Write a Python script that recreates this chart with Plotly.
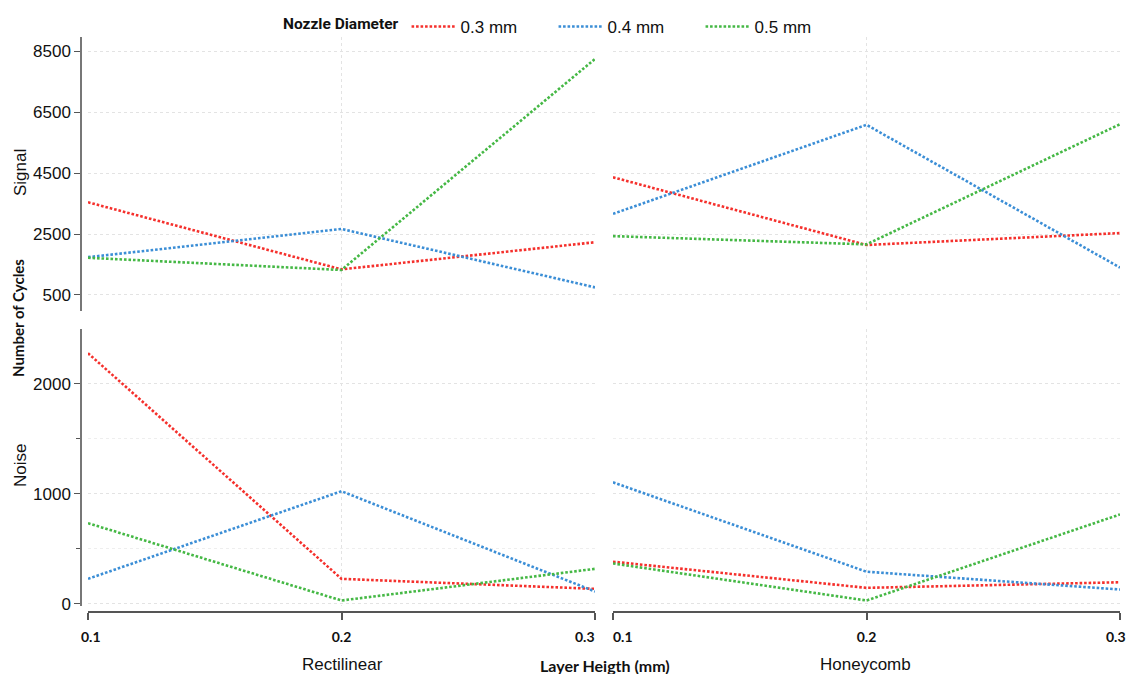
import plotly.graph_objects as go

W, H = 1130, 674

layer_heights = [0.1, 0.2, 0.3]
nozzles = ["0.3 mm", "0.4 mm", "0.5 mm"]
colors = ["#f5302c", "#3b8ed6", "#45b845"]

# Signal (top row)
signal_rect_03 = [3540, 1340, 2230]
signal_rect_04 = [1740, 2665, 750]
signal_rect_05 = [1720, 1320, 8240]
signal_honey_03 = [4360, 2140, 2530]
signal_honey_04 = [3160, 6080, 1400]
signal_honey_05 = [2430, 2160, 6100]

# Noise (bottom row)
noise_rect_03 = [2280, 227, 136]
noise_rect_04 = [227, 1024, 112]
noise_rect_05 = [733, 30, 318]
noise_honey_03 = [383, 145, 196]
noise_honey_04 = [1105, 292, 130]
noise_honey_05 = [367, 30, 813]

signal_ticks = [500, 2500, 4500, 6500, 8500]
noise_ticks = [0, 1000, 2000]
x_ticks = [0.1, 0.2, 0.3]
x_tick_text = ["0.1", "0.2", "0.3"]

panels = [
    ("x", "y", [signal_rect_03, signal_rect_04, signal_rect_05]),
    ("x2", "y2", [signal_honey_03, signal_honey_04, signal_honey_05]),
    ("x3", "y3", [noise_rect_03, noise_rect_04, noise_rect_05]),
    ("x4", "y4", [noise_honey_03, noise_honey_04, noise_honey_05]),
]

fig = go.Figure()
for pi, (xa, ya, series) in enumerate(panels):
    for si, vals in enumerate(series):
        fig.add_trace(go.Scatter(
            x=layer_heights, y=vals, xaxis=xa, yaxis=ya, mode="lines",
            name=nozzles[si], legendgroup=nozzles[si], showlegend=(pi == 0),
            line=dict(color=colors[si], width=2.6, dash="2.6px,1.9px"),
            hoverinfo="skip",
        ))

def px(v):
    return v / W

def py(v):
    return 1 - v / H

grid = dict(showgrid=True, gridcolor="#e3e3e3", griddash="dot", gridwidth=1, automargin=False)
tick_font = dict(family="Liberation Sans, Arial", size=17, color="#111")
xtick_font = dict(family="Lato, Liberation Sans", size=14, color="#111", weight="bold")

left_dom = [px(88), px(595)]
right_dom = [px(613), px(1120)]
top_dom = [py(311), py(37)]
bot_dom = [py(606), py(329)]

common_x = dict(range=[0.1, 0.3], tickvals=x_ticks, zeroline=False, **grid)

# middle labels drawn by the axis; edge labels placed as annotations nudged inward
mid_only = ["" if i != 1 else t for i, t in enumerate(x_tick_text)]
bottom_x = dict(anchor="free", position=py(612), showline=True, linecolor="#555",
                linewidth=1.5, ticks="outside", ticklen=7, tickcolor="#555", tickwidth=1.5,
                ticktext=mid_only, tickfont=xtick_font, ticklabelstandoff=5, **common_x)

fig.update_layout(
    width=W, height=H,
    margin=dict(l=0, r=0, t=0, b=0, pad=0),
    paper_bgcolor="white", plot_bgcolor="white",
    showlegend=True,
    legend=dict(
        orientation="h", x=px(281), y=py(9), xanchor="left", yanchor="top",
        title=dict(text="<b>Nozzle Diameter</b>", side="left",
                   font=dict(family="Roboto, Lato", size=15.5, color="#111")),
        font=dict(family="Liberation Sans, Arial", size=17, color="#111"),
        entrywidth=88, entrywidthmode="pixels", itemwidth=44,
        bgcolor="rgba(0,0,0,0)",
    ),
    xaxis=dict(domain=left_dom, anchor="y", showticklabels=False, ticks="", showline=False, **common_x),
    xaxis2=dict(domain=right_dom, anchor="y2", showticklabels=False, ticks="", showline=False, **common_x),
    xaxis3=dict(domain=left_dom, **bottom_x),
    xaxis4=dict(domain=right_dom, **bottom_x),
    yaxis=dict(domain=top_dom, range=[-25, 8960], anchor="free", position=px(81), tickvals=signal_ticks,
               showline=True, linecolor="#777", linewidth=1.5, ticks="outside", ticklen=6,
               tickcolor="#555", tickwidth=1.2, tickfont=tick_font, zeroline=False, **grid),
    yaxis2=dict(domain=top_dom, range=[-25, 8960], anchor="x2", tickvals=signal_ticks,
                showticklabels=False, ticks="", showline=False, zeroline=False, **grid),
    yaxis3=dict(domain=bot_dom, range=[-20, 2500], anchor="free", position=px(81), tickvals=noise_ticks,
                showline=True, linecolor="#777", linewidth=1.5, ticks="outside", ticklen=6,
                tickcolor="#555", tickwidth=1.2, tickfont=tick_font, zeroline=False,
                minor=dict(tickvals=[500, 1500], ticks="outside", ticklen=4, tickcolor="#555",
                           showgrid=True, gridcolor="#eeeeee", griddash="dot"),
                **grid),
    yaxis4=dict(domain=bot_dom, range=[-20, 2500], anchor="x4", tickvals=noise_ticks,
                showticklabels=False, ticks="", showline=False, zeroline=False,
                minor=dict(tickvals=[500, 1500], showgrid=True, gridcolor="#eeeeee", griddash="dot"),
                **grid),
)

# edge tick labels (positioned through the x axes)
edge_labels = [
    ("x3", x_ticks[0], x_tick_text[0], "center", 3),
    ("x3", x_ticks[2], x_tick_text[2], "right", 2),
    ("x4", x_ticks[0], x_tick_text[0], "left", -2),
    ("x4", x_ticks[2], x_tick_text[2], "center", -4),
]
for xr, xv, txt, anc, sh in edge_labels:
    fig.add_annotation(xref=xr, yref="paper", x=xv, y=py(636), text=f"<b>{txt}</b>",
                       showarrow=False, xanchor=anc, yanchor="middle", xshift=sh,
                       font=dict(family="Lato, Liberation Sans", size=14, color="#111"))

annots = [
    dict(text="Signal", x=px(20), y=py(173), textangle=-90,
         font=dict(family="Liberation Sans, Arial", size=17, color="#111")),
    dict(text="Noise", x=px(20), y=py(466), textangle=-90,
         font=dict(family="Liberation Sans, Arial", size=17, color="#111")),
    dict(text="<b>Number of Cycles</b>", x=px(18), y=py(318), textangle=-90,
         font=dict(family="Lato, Liberation Sans", size=15, color="#111")),
    dict(text="Rectilinear", x=px(342), y=py(664),
         font=dict(family="Liberation Sans, Arial", size=17, color="#111")),
    dict(text="Honeycomb", x=px(866), y=py(664),
         font=dict(family="Liberation Sans, Arial", size=17, color="#111")),
    dict(text="<b>Layer Heigth (mm)</b>", x=px(605), y=py(665),
         font=dict(family="Lato, Liberation Sans", size=16, color="#111")),
]
for a in annots:
    fig.add_annotation(xref="paper", yref="paper", showarrow=False,
                       xanchor="center", yanchor="middle", **a)

fig.write_html(
    "out.html",
    config={"displayModeBar": False},
    post_script="document.body.style.margin='0';document.body.style.overflow='hidden';",
)
